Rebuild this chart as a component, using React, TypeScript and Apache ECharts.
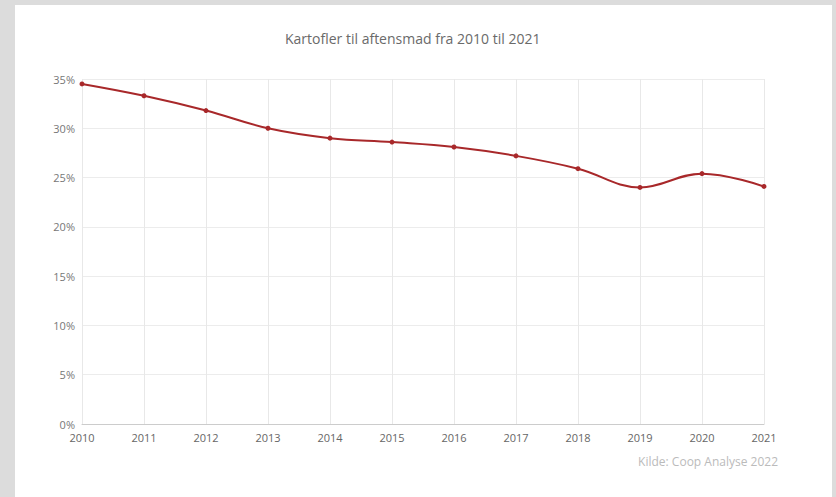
import React, { useEffect, useRef } from "react";
import * as echarts from "echarts";

const years = ["2010", "2011", "2012", "2013", "2014", "2015", "2016", "2017", "2018", "2019", "2020", "2021"];
const shares = [34.5, 33.3, 31.8, 30.0, 29.0, 28.6, 28.1, 27.2, 25.9, 24.0, 25.4, 24.1];
const titleText = "Kartofler til aftensmad fra 2010 til 2021";
const sourceText = "Kilde: Coop Analyse 2022";

export default function App() {
  const ref = useRef<HTMLDivElement>(null);
  useEffect(() => {
    document.body.style.margin = "0";
    const chart = echarts.init(ref.current!, null, { renderer: "svg" });
    const font = "'Open Sans', 'Noto Sans', sans-serif";
    chart.setOption({
      animation: false,
      textStyle: { fontFamily: font },
      title: {
        text: titleText,
        left: 280,
        top: 26,
        textStyle: { fontSize: 14, fontWeight: "normal", color: "#6a6a6a", fontFamily: font },
      },
      graphic: [
        {
          type: "text",
          right: 58,
          top: 455,
          style: { text: sourceText, fill: "#bbb", fontSize: 12, fontFamily: font },
        },
      ],
      grid: { left: 82, right: 72, top: 79, bottom: 73, containLabel: false },
      xAxis: {
        type: "category",
        data: years,
        boundaryGap: false,
        axisLine: { show: true, lineStyle: { color: "#ccc" } },
        axisTick: { show: false },
        axisLabel: { color: "#666", fontSize: 11, margin: 8, fontFamily: font },
        splitLine: { show: true, lineStyle: { color: "#e8e8e8" } },
      },
      yAxis: {
        type: "value",
        min: 0,
        max: 35,
        interval: 5,
        axisLine: { show: false },
        axisTick: { show: false },
        axisLabel: { color: "#777", fontSize: 11, margin: 7, formatter: "{value}%", fontFamily: font },
        splitLine: { show: true, lineStyle: { color: "#ececec" } },
      },
      series: [
        {
          type: "line",
          data: shares,
          smooth: 0.4,
          symbol: "circle",
          symbolSize: 5,
          lineStyle: { color: "#a8282a", width: 2 },
          itemStyle: { color: "#a8282a" },
        },
      ],
    });
    return () => chart.dispose();
  }, []);
  return (
    <div style={{ position: "relative", width: 836, height: 497, background: "#dcdcdc", overflow: "hidden" }}>
      <div style={{ position: "absolute", left: 15, top: 5, width: 817, height: 492, background: "#ffffff" }} />
      <div ref={ref} style={{ position: "absolute", left: 0, top: 0, width: 836, height: 497 }} />
    </div>
  );
}
